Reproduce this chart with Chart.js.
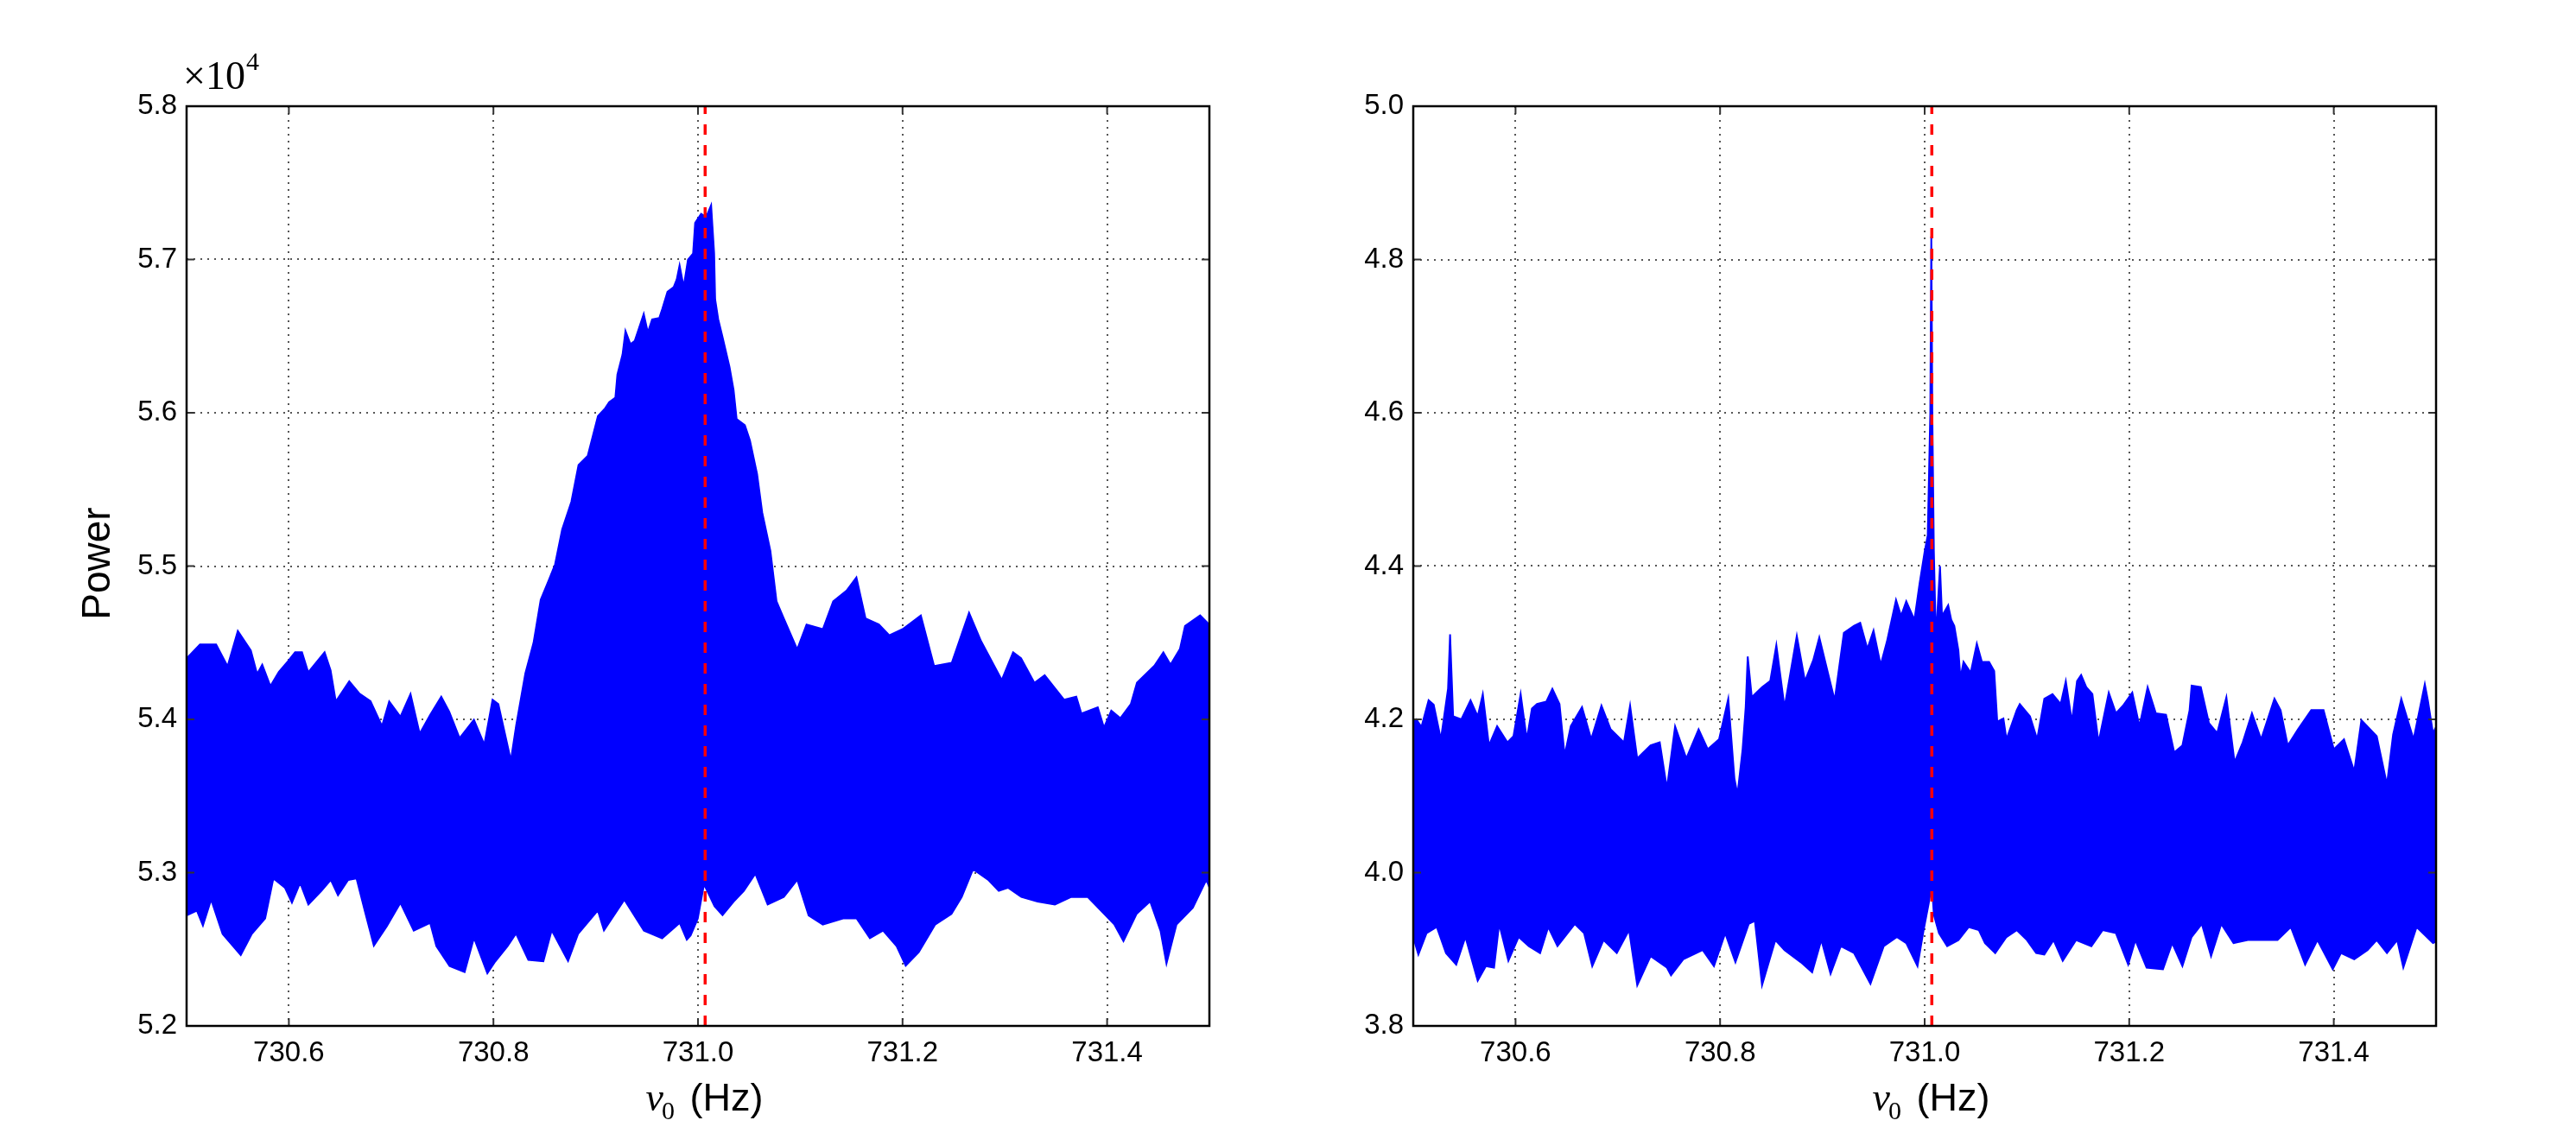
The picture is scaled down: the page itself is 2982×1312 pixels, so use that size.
<!DOCTYPE html>
<html>
<head>
  <meta charset="utf-8">
  <title>Power vs nu0</title>
  <script src="https://cdn.jsdelivr.net/npm/chart.js"></script>
  <style>
    body { margin: 0; background: #fff; width: 2982px; height: 1312px; position: relative; overflow: hidden; }
    .panel { position: absolute; top: 0; width: 1491px; height: 1312px; }
  </style>
</head>
<body>
  <div class="panel" style="left:0"><canvas id="leftChart" width="1491" height="1312"></canvas></div>
  <div class="panel" style="left:1491px"><canvas id="rightChart" width="1491" height="1312"></canvas></div>

<script>
// axes
const xMin = 730.5, xMax = 731.5;
const xTicks = [730.6, 730.8, 731.0, 731.2, 731.4];
const leftYTicks = [5.2, 5.3, 5.4, 5.5, 5.6, 5.7, 5.8];
const rightYTicks = [3.8, 4.0, 4.2, 4.4, 4.6, 4.8, 5.0];
const markerFreq = 731.007;

// left panel, power in units of 1e4: upper and lower edge of the band
const leftUpperFreq = [730.500, 730.513, 730.529, 730.540, 730.550, 730.563, 730.569, 730.574, 730.582, 730.590,
  730.599, 730.606, 730.613, 730.619, 730.635, 730.641, 730.646, 730.659, 730.669, 730.680,
  730.691, 730.698, 730.709, 730.719, 730.728, 730.738, 730.749, 730.757, 730.767, 730.781,
  730.791, 730.799, 730.805, 730.812, 730.817, 730.822, 730.831, 730.839, 730.846, 730.854,
  730.860, 730.867, 730.876, 730.883, 730.892, 730.902, 730.909, 730.913, 730.919, 730.921,
  730.926, 730.929, 730.934, 730.938, 730.944, 730.947, 730.951, 730.955, 730.962, 730.965,
  730.970, 730.976, 730.979, 730.982, 730.986, 730.990, 730.995, 730.997, 731.003, 731.008,
  731.013, 731.016, 731.017, 731.020, 731.024, 731.031, 731.035, 731.038, 731.046, 731.051,
  731.058, 731.063, 731.071, 731.077, 731.084, 731.097, 731.106, 731.122, 731.132, 731.145,
  731.155, 731.164, 731.177, 731.187, 731.200, 731.218, 731.231, 731.248, 731.265, 731.277,
  731.297, 731.308, 731.316, 731.329, 731.339, 731.358, 731.370, 731.375, 731.391, 731.397,
  731.404, 731.413, 731.423, 731.429, 731.446, 731.455, 731.462, 731.471, 731.476, 731.491, 731.500];
const leftUpperPower = [5.440, 5.449, 5.449, 5.435, 5.458, 5.445, 5.430, 5.436, 5.422, 5.431,
  5.438, 5.444, 5.444, 5.431, 5.444, 5.432, 5.412, 5.425, 5.417, 5.412,
  5.396, 5.412, 5.402, 5.417, 5.391, 5.403, 5.415, 5.405, 5.388, 5.400,
  5.384, 5.413, 5.410, 5.389, 5.374, 5.396, 5.430, 5.450, 5.478, 5.491,
  5.501, 5.524, 5.542, 5.566, 5.572, 5.598, 5.603, 5.607, 5.610, 5.625,
  5.638, 5.654, 5.645, 5.647, 5.659, 5.665, 5.653, 5.661, 5.662, 5.668,
  5.679, 5.682, 5.687, 5.697, 5.683, 5.700, 5.704, 5.724, 5.730, 5.728,
  5.736, 5.704, 5.674, 5.661, 5.650, 5.630, 5.615, 5.596, 5.592, 5.582,
  5.560, 5.535, 5.510, 5.477, 5.466, 5.446, 5.462, 5.459, 5.477, 5.484,
  5.493, 5.466, 5.462, 5.455, 5.459, 5.468, 5.435, 5.437, 5.470, 5.451,
  5.426, 5.444, 5.440, 5.424, 5.429, 5.413, 5.415, 5.404, 5.408, 5.395,
  5.406, 5.401, 5.410, 5.424, 5.435, 5.444, 5.436, 5.446, 5.461, 5.468, 5.462];
const leftLowerFreq = [730.500, 730.510, 730.516, 730.524, 730.535, 730.553, 730.564, 730.577, 730.585, 730.596,
  730.603, 730.611, 730.619, 730.632, 730.641, 730.648, 730.658, 730.666, 730.674, 730.683,
  730.696, 730.709, 730.722, 730.738, 730.744, 730.757, 730.772, 730.781, 730.794, 730.802,
  730.814, 730.822, 730.834, 730.849, 730.857, 730.873, 730.883, 730.902, 730.908, 730.928,
  730.947, 730.965, 730.982, 730.989, 730.993, 731.000, 731.006, 731.016, 731.024, 731.035,
  731.045, 731.056, 731.068, 731.084, 731.097, 731.108, 731.122, 731.142, 731.155, 731.168,
  731.181, 731.194, 731.203, 731.216, 731.232, 731.248, 731.258, 731.269, 731.284, 731.294,
  731.303, 731.316, 731.332, 731.349, 731.365, 731.381, 731.397, 731.407, 731.416, 731.429,
  731.442, 731.452, 731.458, 731.468, 731.484, 731.497, 731.500];
const leftLowerPower = [5.272, 5.275, 5.265, 5.282, 5.260, 5.246, 5.260, 5.270, 5.296, 5.290,
  5.280, 5.293, 5.279, 5.288, 5.295, 5.285, 5.295, 5.296, 5.275, 5.252,
  5.265, 5.280, 5.262, 5.267, 5.252, 5.239, 5.235, 5.257, 5.234, 5.242,
  5.252, 5.260, 5.243, 5.242, 5.262, 5.242, 5.260, 5.275, 5.262, 5.282,
  5.262, 5.257, 5.267, 5.256, 5.259, 5.270, 5.292, 5.278, 5.272, 5.281,
  5.288, 5.299, 5.279, 5.284, 5.295, 5.272, 5.266, 5.270, 5.270, 5.257,
  5.262, 5.252, 5.239, 5.248, 5.266, 5.273, 5.284, 5.302, 5.295, 5.288,
  5.290, 5.284, 5.281, 5.279, 5.284, 5.284, 5.273, 5.266, 5.255, 5.273,
  5.281, 5.262, 5.240, 5.266, 5.277, 5.295, 5.290];

// right panel: upper and lower edge of the band
const rightUpperFreq = [730.500, 730.503, 730.508, 730.515, 730.520, 730.527, 730.534, 730.536, 730.539, 730.547,
  730.556, 730.563, 730.568, 730.574, 730.582, 730.592, 730.598, 730.605, 730.611, 730.616,
  730.621, 730.630, 730.636, 730.643, 730.648, 730.654, 730.665, 730.674, 730.684, 730.693,
  730.706, 730.712, 730.719, 730.732, 730.741, 730.748, 730.756, 730.767, 730.779, 730.788,
  730.799, 730.808, 730.814, 730.817, 730.822, 730.825, 730.827, 730.831, 730.841, 730.849,
  730.855, 730.863, 730.875, 730.883, 730.891, 730.897, 730.905, 730.912, 730.921, 730.931,
  730.937, 730.944, 730.950, 730.957, 730.963, 730.972, 730.977, 730.982, 730.990, 730.995,
  731.000, 731.003, 731.0055, 731.0065, 731.0075, 731.009, 731.011, 731.015, 731.017, 731.023,
  731.026, 731.029, 731.033, 731.035, 731.038, 731.045, 731.051, 731.056, 731.063, 731.068,
  731.071, 731.077, 731.080, 731.090, 731.093, 731.103, 731.110, 731.117, 731.125, 731.133,
  731.138, 731.144, 731.149, 731.153, 731.158, 731.164, 731.170, 731.180, 731.187, 731.194,
  731.203, 731.210, 731.218, 731.226, 731.236, 731.244, 731.252, 731.259, 731.261, 731.270,
  731.278, 731.286, 731.295, 731.303, 731.311, 731.320, 731.329, 731.342, 731.348, 731.355,
  731.365, 731.378, 731.390, 731.400, 731.410, 731.420, 731.427, 731.442, 731.452, 731.458,
  731.466, 731.478, 731.489, 731.492, 731.497, 731.500];
const rightUpperPower = [4.197, 4.200, 4.190, 4.225, 4.219, 4.174, 4.240, 4.311, 4.204, 4.200,
  4.225, 4.204, 4.233, 4.166, 4.191, 4.170, 4.178, 4.233, 4.174, 4.214,
  4.220, 4.223, 4.240, 4.220, 4.153, 4.191, 4.216, 4.174, 4.218, 4.187,
  4.170, 4.218, 4.149, 4.166, 4.170, 4.110, 4.191, 4.149, 4.187, 4.161,
  4.174, 4.227, 4.123, 4.102, 4.161, 4.216, 4.282, 4.229, 4.242, 4.250,
  4.297, 4.216, 4.309, 4.250, 4.277, 4.307, 4.263, 4.225, 4.313, 4.322,
  4.326, 4.292, 4.316, 4.271, 4.301, 4.356, 4.335, 4.354, 4.330, 4.377,
  4.419, 4.440, 4.600, 4.830, 4.600, 4.420, 4.305, 4.400, 4.335, 4.349,
  4.330, 4.322, 4.290, 4.254, 4.275, 4.261, 4.299, 4.275, 4.275, 4.263,
  4.197, 4.201, 4.174, 4.212, 4.220, 4.204, 4.174, 4.227, 4.233, 4.220,
  4.250, 4.197, 4.250, 4.258, 4.242, 4.233, 4.170, 4.235, 4.208, 4.218,
  4.235, 4.191, 4.242, 4.208, 4.206, 4.157, 4.166, 4.212, 4.244, 4.242,
  4.195, 4.182, 4.229, 4.144, 4.170, 4.208, 4.174, 4.227, 4.212, 4.166,
  4.187, 4.212, 4.212, 4.161, 4.174, 4.132, 4.199, 4.178, 4.115, 4.180,
  4.227, 4.174, 4.246, 4.225, 4.182, 4.190];
const rightLowerFreq = [730.500, 730.505, 730.513, 730.523, 730.532, 730.542, 730.551, 730.563, 730.571, 730.579,
  730.584, 730.593, 730.603, 730.613, 730.624, 730.632, 730.641, 730.658, 730.667, 730.675,
  730.686, 730.699, 730.711, 730.719, 730.732, 730.748, 730.752, 730.764, 730.783, 730.794,
  730.805, 730.815, 730.828, 730.834, 730.841, 730.854, 730.863, 730.879, 730.890, 730.899,
  730.908, 730.918, 730.931, 730.947, 730.960, 730.973, 730.982, 730.993, 730.999, 731.004,
  731.007, 731.009, 731.014, 731.022, 731.033, 731.043, 731.053, 731.059, 731.069, 731.080,
  731.090, 731.100, 731.109, 731.117, 731.126, 731.135, 731.148, 731.163, 731.174, 731.187,
  731.199, 731.206, 731.217, 731.233, 731.242, 731.252, 731.261, 731.271, 731.280, 731.290,
  731.302, 731.316, 731.329, 731.345, 731.358, 731.372, 731.384, 731.399, 731.407, 731.420,
  731.433, 731.442, 731.452, 731.462, 731.468, 731.481, 731.497, 731.500];
const rightLowerPower = [3.916, 3.893, 3.921, 3.929, 3.895, 3.880, 3.916, 3.859, 3.878, 3.876,
  3.933, 3.885, 3.916, 3.904, 3.895, 3.929, 3.904, 3.933, 3.921, 3.878,
  3.912, 3.895, 3.925, 3.853, 3.891, 3.876, 3.866, 3.887, 3.899, 3.878,
  3.921, 3.883, 3.933, 3.937, 3.853, 3.912, 3.899, 3.883, 3.870, 3.912,
  3.868, 3.904, 3.895, 3.855, 3.904, 3.916, 3.908, 3.878, 3.925, 3.960,
  3.985, 3.945, 3.921, 3.904, 3.912, 3.929, 3.925, 3.908, 3.895, 3.916,
  3.925, 3.912, 3.895, 3.893, 3.912, 3.885, 3.912, 3.904, 3.925, 3.921,
  3.880, 3.912, 3.876, 3.874, 3.908, 3.878, 3.916, 3.933, 3.891, 3.933,
  3.908, 3.912, 3.912, 3.912, 3.929, 3.880, 3.912, 3.874, 3.895, 3.887,
  3.899, 3.912, 3.895, 3.912, 3.876, 3.929, 3.908, 3.910];

const BLUE = '#0000ff';
const zip = (xs, ys) => xs.map((x, i) => ({ x: x, y: ys[i] }));

// box, inward tick marks, axis titles and the x10^4 multiplier
const framePlugin = {
  id: 'frame',
  afterDraw(chart, args, opts) {
    const ctx = chart.ctx;
    const a = chart.chartArea;
    const sx = chart.scales.x, sy = chart.scales.y;
    ctx.save();

    ctx.strokeStyle = '#333';
    ctx.lineWidth = 2;
    ctx.beginPath();
    xTicks.forEach(v => {
      const px = sx.getPixelForValue(v);
      ctx.moveTo(px, a.bottom); ctx.lineTo(px, a.bottom - 9);
      ctx.moveTo(px, a.top); ctx.lineTo(px, a.top + 9);
    });
    opts.yTicks.forEach(v => {
      const py = sy.getPixelForValue(v);
      ctx.moveTo(a.left, py); ctx.lineTo(a.left + 9, py);
      ctx.moveTo(a.right, py); ctx.lineTo(a.right - 9, py);
    });
    ctx.stroke();

    ctx.strokeStyle = '#000';
    ctx.lineWidth = 2.5;
    ctx.strokeRect(a.left, a.top, a.right - a.left, a.bottom - a.top);

    // x title: italic nu with subscript 0, then (Hz)
    ctx.fillStyle = '#000';
    ctx.textBaseline = 'alphabetic';
    ctx.textAlign = 'left';
    const fNu = 'italic 46px "Liberation Serif"';
    const fSub = '30px "Liberation Serif"';
    const fHz = '45px "Liberation Sans"';
    ctx.font = fNu; const wNu = ctx.measureText('ν').width;
    ctx.font = fSub; const wSub = ctx.measureText('0').width;
    ctx.font = fHz; const wHz = ctx.measureText(' (Hz)').width;
    let x0 = (a.left + a.right) / 2 + 6 - (wNu + wSub + wHz) / 2;
    const base = 1286;
    ctx.font = fNu; ctx.fillText('ν', x0, base); x0 += wNu;
    ctx.font = fSub; ctx.fillText('0', x0 - 2, base + 10); x0 += wSub;
    ctx.font = fHz; ctx.fillText(' (Hz)', x0 + 3, base);

    if (opts.showPower) {
      ctx.save();
      ctx.translate(127, (a.top + a.bottom) / 2 - 3);
      ctx.rotate(-Math.PI / 2);
      ctx.textAlign = 'center';
      ctx.font = '46px "Liberation Sans"';
      ctx.fillText('Power', 0, 0);
      ctx.restore();

      ctx.font = '46px "Liberation Serif"';
      ctx.fillText('×10', a.left - 4, 103);
      const w = ctx.measureText('×10').width;
      ctx.font = '30px "Liberation Serif"';
      ctx.fillText('4', a.left - 3 + w, 81);
    }
    ctx.restore();
  }
};

function makeChart(id, upper, lower, yTicks, pad, showPower, lineW) {
  const yMin = yTicks[0], yMax = yTicks[yTicks.length - 1];
  return new Chart(document.getElementById(id), {
    type: 'line',
    data: {
      datasets: [
        { data: upper, borderColor: BLUE, backgroundColor: BLUE, borderWidth: lineW, pointRadius: 0, fill: '+1', tension: 0 },
        { data: lower, borderColor: BLUE, backgroundColor: BLUE, borderWidth: lineW, pointRadius: 0, fill: false, tension: 0 },
        { data: [{ x: markerFreq, y: yMin }, { x: markerFreq, y: yMax }], borderColor: '#ff0000', borderWidth: 3.5,
          borderDash: [12, 12], pointRadius: 0, fill: false, order: -1 }
      ]
    },
    options: {
      responsive: false,
      animation: false,
      devicePixelRatio: 1,
      layout: { padding: pad },
      plugins: { legend: { display: false }, tooltip: { enabled: false }, frame: { yTicks: yTicks, showPower: showPower } },
      scales: {
        x: {
          type: 'linear', min: xMin, max: xMax, z: 1,
          afterBuildTicks: s => { s.ticks = xTicks.map(v => ({ value: v })); },
          afterFit: s => { s.height = 124; },
          grid: { color: '#555', lineWidth: 2, drawTicks: false },
          border: { display: false, dash: [2, 6] },
          ticks: { color: '#000', padding: 12, maxRotation: 0, font: { family: 'Liberation Sans', size: 33 },
            callback: v => v.toFixed(1) }
        },
        y: {
          type: 'linear', min: yMin, max: yMax, z: 1,
          afterBuildTicks: s => { s.ticks = yTicks.map(v => ({ value: v })); },
          afterFit: s => { s.width = 120; },
          grid: { color: '#555', lineWidth: 2, drawTicks: false },
          border: { display: false, dash: [2, 6] },
          ticks: { color: '#000', padding: 11, font: { family: 'Liberation Sans', size: 33 },
            callback: v => v.toFixed(1) }
        }
      }
    },
    plugins: [framePlugin]
  });
}

makeChart('leftChart', zip(leftUpperFreq, leftUpperPower), zip(leftLowerFreq, leftLowerPower),
  leftYTicks, { left: 96, top: 123, right: 91, bottom: 0 }, true, 1.5);
makeChart('rightChart', zip(rightUpperFreq, rightUpperPower), zip(rightLowerFreq, rightLowerPower),
  rightYTicks, { left: 25, top: 123, right: 162, bottom: 0 }, false, 2);
</script>
</body>
</html>
